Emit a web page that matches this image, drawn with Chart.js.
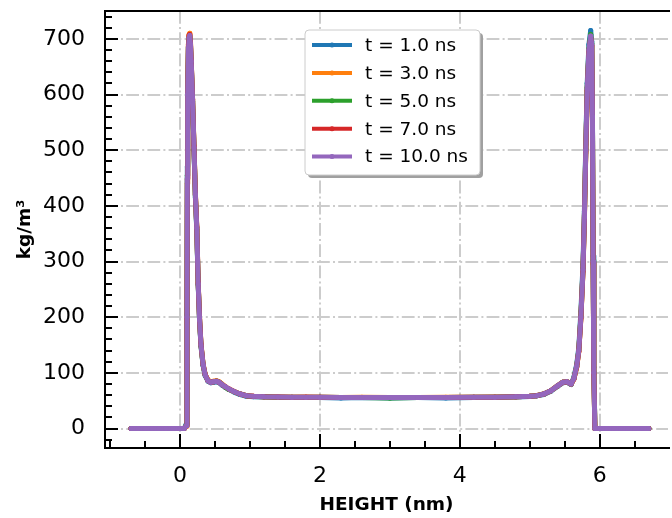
<!DOCTYPE html>
<html>
<head>
<meta charset="utf-8">
<script src="https://cdn.jsdelivr.net/npm/chart.js@4/dist/chart.umd.min.js"></script>
<style>
  html, body { margin: 0; padding: 0; background: #fff; }
  #wrap { width: 672px; height: 518px; }
</style>
</head>
<body>
<div id="wrap"><canvas id="density" width="672" height="518"></canvas></div>
<script>
// height positions (nm), shared by all runs
const heights = [
  -0.7, -0.6, -0.5, -0.4, -0.3, -0.2, -0.1, 0.0, 0.06, 0.09,
  0.10, 0.105, 0.11, 0.12, 0.13, 0.14, 0.15, 0.16, 0.18, 0.2,
  0.22, 0.24, 0.26, 0.28, 0.3, 0.33, 0.36, 0.4, 0.44, 0.48,
  0.52, 0.56, 0.6, 0.65, 0.7, 0.78, 0.86, 0.95, 1.05, 1.2,
  1.4, 1.6, 1.8, 2.0, 2.3, 2.6, 3.0, 3.4, 3.8, 4.2,
  4.5, 4.8, 5.0, 5.1, 5.2, 5.3, 5.4, 5.47, 5.53, 5.59,
  5.63, 5.67, 5.7, 5.73, 5.76, 5.78, 5.8, 5.82, 5.845, 5.87,
  5.885, 5.895, 5.905, 5.915, 5.93, 6.0, 6.1, 6.2, 6.3, 6.4,
  6.5, 6.6, 6.7
];

// density (kg/m^3) at each time
const rho1ns = [
  0, 0, 0, 0, 0, 0, 0, 0, 0, 8,
  215, 470, 610, 685, 698, 700, 686, 655, 585, 500,
  415, 355, 258, 192, 148, 113, 95, 85, 82, 83,
  84, 82, 78, 74, 70, 65, 61, 58, 57, 56.5,
  56, 55.5, 56, 55.5, 55, 55.5, 55, 55.5, 55, 55.5,
  56, 56.5, 57.5, 59, 61, 67, 76, 82, 83, 79,
  92, 115, 145, 210, 295, 390, 510, 620, 690, 715,
  695, 570, 310, 110, 0, 0, 0, 0, 0, 0,
  0, 0, 0
];
const rho3ns = [
  0, 0, 0, 0, 0, 0, 0, 0, 0, 4,
  190, 440, 605, 690, 708, 710, 695, 662, 592, 508,
  422, 362, 262, 197, 152, 116, 97, 87, 84, 85,
  86, 84, 80, 75, 71, 66, 62, 59, 58, 57,
  56.5, 56, 56.5, 56, 55.5, 56, 55.5, 55.5, 56, 56,
  56.5, 57, 58, 59.5, 62, 68, 77, 83, 84, 80,
  89, 110, 138, 198, 282, 375, 495, 605, 675, 700,
  686, 555, 295, 98, 0, 0, 0, 0, 0, 0,
  0, 0, 0
];
const rho5ns = [
  0, 0, 0, 0, 0, 0, 0, 0, 0, 6,
  205, 455, 600, 682, 703, 705, 689, 658, 588, 503,
  418, 358, 259, 194, 149, 114, 96, 86, 83, 84,
  85, 83, 79, 74, 70, 66, 62, 59, 57.5, 57,
  56, 56, 55.5, 56, 55.5, 55.5, 55, 55.5, 55.5, 56,
  56, 57, 58, 59, 62, 68, 77, 83, 84, 80,
  90, 112, 141, 202, 287, 382, 502, 612, 682, 708,
  692, 562, 302, 102, 0, 0, 0, 0, 0, 0,
  0, 0, 0
];
const rho7ns = [
  0, 0, 0, 0, 0, 0, 0, 0, 0, 5,
  198, 448, 602, 686, 706, 708, 692, 661, 591, 506,
  421, 361, 261, 196, 151, 115, 97, 86, 83, 84,
  85, 83, 79, 75, 71, 66, 62, 59, 58, 57,
  56.5, 56, 56, 56, 55.5, 55.5, 55.5, 55.5, 55.5, 56,
  56, 57, 58, 59, 62, 68, 77, 83, 84, 80,
  89, 111, 139, 199, 283, 378, 498, 607, 678, 702,
  688, 558, 298, 99, 0, 0, 0, 0, 0, 0,
  0, 0, 0
];
const rho10ns = [
  0, 0, 0, 0, 0, 0, 0, 0, 0, 5,
  200, 450, 600, 680, 702, 706, 690, 660, 590, 505,
  420, 360, 260, 195, 150, 115, 96, 86, 83, 84,
  85, 83, 79, 75, 71, 66, 62, 59, 58, 57,
  56.5, 56, 56, 56, 55.5, 55.5, 55.5, 55.5, 55.5, 56,
  56, 57, 58, 59, 62, 68, 77, 83, 84, 80,
  90, 112, 140, 200, 285, 380, 500, 610, 680, 705,
  690, 560, 300, 100, 0, 0, 0, 0, 0, 0,
  0, 0, 0
];

const seriesLabels = ['t = 1.0 ns', 't = 3.0 ns', 't = 5.0 ns', 't = 7.0 ns', 't = 10.0 ns'];
const seriesColors = ['#1f77b4', '#ff7f0e', '#2ca02c', '#d62728', '#9467bd'];
const allRho = [rho1ns, rho3ns, rho5ns, rho7ns, rho10ns];

const xMajor = [0, 2, 4, 6];
const xMinor = [-1, -0.5, 0.5, 1, 1.5, 2.5, 3, 3.5, 4.5, 5, 5.5, 6.5];
const yMajor = [0, 100, 200, 300, 400, 500, 600, 700];
const yMinor = [-20, 20, 40, 60, 80, 120, 140, 160, 180, 220, 240, 260, 280, 320, 340, 360, 380,
  420, 440, 460, 480, 520, 540, 560, 580, 620, 640, 660, 680, 720, 740];

const FONT = 'DejaVu Sans';

// spines + inward ticks, like matplotlib's direction='in'
const axesDecor = {
  id: 'axesDecor',
  afterDraw(chart) {
    const ctx = chart.ctx;
    const a = chart.chartArea;
    const xs = chart.scales.x, ys = chart.scales.y;
    ctx.save();
    ctx.strokeStyle = '#000';
    ctx.lineWidth = 2;
    ctx.beginPath();
    ctx.moveTo(a.right + 2, a.top);
    ctx.lineTo(a.left, a.top);
    ctx.lineTo(a.left, a.bottom);
    ctx.lineTo(a.right + 2, a.bottom);
    ctx.stroke();

    ctx.beginPath();
    xMajor.forEach(v => {
      const p = Math.round(xs.getPixelForValue(v));
      ctx.moveTo(p, a.bottom); ctx.lineTo(p, a.bottom - 14);
    });
    xMinor.forEach(v => {
      const p = Math.round(xs.getPixelForValue(v));
      ctx.moveTo(p, a.bottom); ctx.lineTo(p, a.bottom - 7);
    });
    yMajor.forEach(v => {
      const p = Math.round(ys.getPixelForValue(v));
      ctx.moveTo(a.left, p); ctx.lineTo(a.left + 13, p);
    });
    yMinor.forEach(v => {
      const p = Math.round(ys.getPixelForValue(v));
      ctx.moveTo(a.left, p); ctx.lineTo(a.left + 7, p);
    });
    ctx.stroke();
    ctx.restore();
  }
};

// legend box inside the plot, upper middle
const innerLegend = {
  id: 'innerLegend',
  afterDraw(chart) {
    const ctx = chart.ctx;
    const bx = 305, by = 30, bw = 175, bh = 145, r = 4;
    ctx.save();
    const box = (x, y) => {
      ctx.beginPath();
      ctx.roundRect(x, y, bw, bh, r);
    };
    box(bx + 3, by + 3);
    ctx.fillStyle = '#a0a0a0';
    ctx.fill();
    box(bx, by);
    ctx.fillStyle = '#fff';
    ctx.fill();
    ctx.strokeStyle = '#cccccc';
    ctx.lineWidth = 1;
    ctx.stroke();

    ctx.font = '18.5px "' + FONT + '"';
    ctx.textBaseline = 'middle';
    ctx.textAlign = 'left';
    chart.data.datasets.forEach((ds, i) => {
      const y = 45 + i * 27.9;
      ctx.strokeStyle = ds.borderColor;
      ctx.lineWidth = 4;
      ctx.beginPath();
      ctx.moveTo(312, y); ctx.lineTo(352, y);
      ctx.stroke();
      ctx.fillStyle = ds.borderColor;
      ctx.beginPath();
      ctx.arc(332, y, 2.5, 0, Math.PI * 2);
      ctx.fill();
      ctx.fillStyle = '#000';
      ctx.fillText(ds.label, 365, y + 1);
    });
    ctx.restore();
  }
};

const datasets = allRho.map((rho, i) => ({
  label: seriesLabels[i],
  data: heights.map((h, k) => ({ x: h, y: rho[k] })),
  borderColor: seriesColors[i],
  backgroundColor: seriesColors[i],
  borderWidth: 5,
  pointRadius: 2.5,
  pointBorderWidth: 0,
  borderCapStyle: 'round',
  borderJoinStyle: 'round',
  tension: 0,
  order: allRho.length - i   // later runs drawn on top
}));

new Chart(document.getElementById('density'), {
  type: 'line',
  data: { datasets: datasets },
  options: {
    responsive: false,
    animation: false,
    devicePixelRatio: 1,
    layout: { padding: { top: 11, right: 0, left: 0, bottom: 0 } },
    plugins: { legend: { display: false }, tooltip: { enabled: false } },
    scales: {
      x: {
        type: 'linear',
        min: -1.072,
        max: 6.975,
        afterBuildTicks: axis => { axis.ticks = xMajor.map(v => ({ value: v })); },
        afterFit: axis => { axis.height = 70; axis.paddingLeft = 0; axis.paddingRight = 0; },
        ticks: { color: '#000', font: { family: FONT, size: 22 }, padding: 15 },
        grid: { color: '#cccccc', lineWidth: 2, drawTicks: false },
        border: { display: false, dash: [12.8, 3.2, 2, 3.2] },
        title: {
          display: true, text: 'HEIGHT (nm)', color: '#000',
          font: { family: FONT, size: 18.5, weight: 'bold' },
          padding: { top: 0, bottom: 2 }
        }
      },
      y: {
        min: -35,
        max: 750,
        afterBuildTicks: axis => { axis.ticks = yMajor.map(v => ({ value: v })); },
        afterFit: axis => { axis.width = 105; axis.paddingTop = 0; axis.paddingBottom = 0; },
        ticks: { color: '#000', font: { family: FONT, size: 22 }, padding: 20 },
        grid: { color: '#cccccc', lineWidth: 2, drawTicks: false },
        border: { display: false, dash: [12.8, 3.2, 2, 3.2] },
        title: {
          display: true, text: 'kg/m³', color: '#000',
          font: { family: FONT, size: 18.5, weight: 'bold' },
          padding: { top: 14, bottom: 0 }
        }
      }
    }
  },
  plugins: [axesDecor, innerLegend]
});
</script>
</body>
</html>
